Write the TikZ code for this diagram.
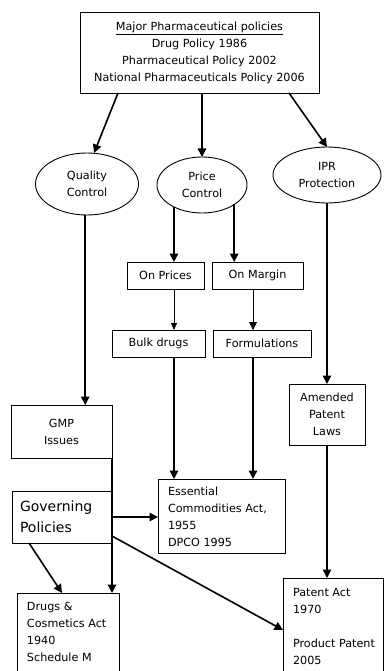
\documentclass[tikz,border=0pt]{standalone}
\usepackage{fontspec}
\setmainfont{DejaVu Sans}
\usetikzlibrary{arrows.meta,calc,shapes.geometric}
\begin{document}
\begin{tikzpicture}[x=1pt,y=-1pt,
  every node/.style={inner sep=0pt,outer sep=0pt},
  txt/.style={font=\fontsize{11.2}{17}\selectfont},
  box/.style={draw,line width=0.9pt,txt,align=center},
  oval/.style={draw,ellipse,line width=0.9pt,txt,align=center},
  arr/.style={line width=1.6pt,-{Triangle[width=8.5pt,length=8.5pt]}},
  tarr/.style={line width=0.9pt,-{Triangle[width=6pt,length=7pt]}},
  mid/.style={line width=0.9pt,-{Triangle[width=8pt,length=8pt]}}]
\useasboundingbox (0,0) rectangle (384,671);
\clip (0,0) rectangle (384,671);
\fill[white] (0,0) rectangle (384,671);

\node[box,minimum width=239pt,minimum height=81pt] (top) at (199.5,52.5)
  {\underline{Major Pharmaceutical policies}\\Drug Policy 1986\\Pharmaceutical Policy 2002\\National Pharmaceuticals Policy 2006};

\node[oval,minimum width=103pt,minimum height=62pt] (qc) at (87,184) {Quality\\Control};
\node[oval,minimum width=90pt,minimum height=56pt] (pc) at (202,185) {Price\\Control};
\node[oval,minimum width=108pt,minimum height=56pt] (ipr) at (327,175) {IPR\\Protection};

\node[box,minimum width=77pt,minimum height=27pt] (op) at (165.5,275.5) {On Prices};
\node[box,minimum width=91pt,minimum height=27pt] (om) at (257.5,275.5) {On Margin};
\node[box,minimum width=93pt,minimum height=27pt] (bd) at (158.5,343.5) {Bulk drugs};
\node[box,minimum width=98pt,minimum height=27pt] (fm) at (262,343.5) {Formulations};

\node[box,minimum width=101pt,minimum height=53pt] (gmp) at (61.5,431.5) {GMP\\Issues};
\node[box,minimum width=76pt,minimum height=61pt] (am) at (327,414.5) {Amended\\Patent\\Laws};

\node[draw,line width=0.9pt,minimum width=127pt,minimum height=74pt] (ess) at (221.5,516) {};
\node[txt,align=left,anchor=west] (esst) at (168,516.5) {Essential\\Commodities Act,\\1955\\DPCO 1995};

\node[draw,line width=0.9pt,minimum width=100pt,minimum height=52pt] (gov) at (62,517) {};
\node[font=\fontsize{14}{21}\selectfont,align=left,anchor=west] (govt) at (20,516.5) {Governing\\Policies};

\node[draw,line width=0.9pt,minimum width=102pt,minimum height=120pt] (dr) at (68,653) {};
\node[txt,align=left,anchor=west] (drt) at (27,631.5) {Drugs \&\\Cosmetics Act\\1940\\Schedule M};

\node[draw,line width=0.9pt,minimum width=100pt,minimum height=130pt] (pat) at (333,643) {};
\node[txt,align=left,anchor=west] (patt) at (293,626.5) {Patent Act\\1970\\\strut\\Product Patent\\2005};

% connectors
\coordinate (cl) at (174,0);
\coordinate (cr) at (253,0);
\coordinate (cm) at (234.2,0);
\coordinate (cq) at (85.2,0);
\draw[arr] ($(top.south west)+(38,0)$) -- (qc.north -| 94,0);
\draw[arr] (top.south -| pc.north) -- (pc.north);
\draw[arr] ($(top.south west)+(209,0)$) -- (ipr.north);

\draw[arr] (cq |- qc.south) -- (cq |- gmp.north);
\draw[arr] (pc.218) -- (pc.218 |- op.north);
\draw[arr] (cm |- pc.330) -- (cm |- om.north);
\draw[arr] (ipr.south) -- (ipr.south |- am.north);

\draw[tarr] (cl |- op.south) -- (cl |- bd.north);
\draw[mid] (cr |- om.south) -- (cr |- fm.north);
\draw[arr] (cl |- bd.south) -- (cl |- ess.north);
\draw[arr] (cr |- fm.south) -- (cr |- ess.north);

\draw[arr] (am.south) -- (am.south |- pat.north);
\draw[arr] (gmp.south east) -- (gmp.south east |- dr.north);
\draw[arr] (gov.east) -- (gov.east -| ess.west);
\draw[arr] ($(gov.south west)+(17,0)$) -- ($(dr.north west)+(45,0)$);
\draw[arr] ($(gov.south east)+(0,-7)$) -- ($(pat.north west)+(0,52)$);
\end{tikzpicture}
\end{document}
